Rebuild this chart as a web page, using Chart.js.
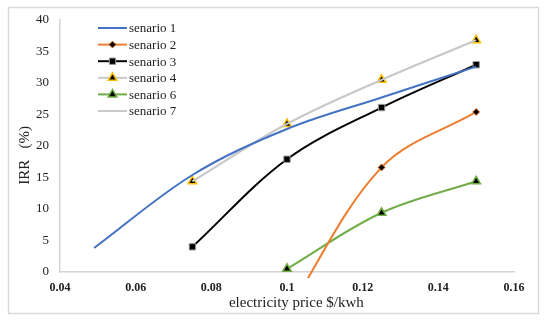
<!DOCTYPE html>
<html>
<head>
<meta charset="utf-8">
<script src="https://cdn.jsdelivr.net/npm/chart.js@4/dist/chart.umd.min.js"></script>
<style>
  html, body { margin: 0; padding: 0; background: #fff; }
  #wrap { width: 550px; height: 322px; }
</style>
</head>
<body>
<div id="wrap"><canvas id="c" width="550" height="322"></canvas></div>
<script>
// ---------- Dati ----------
const xTicks = [0.04, 0.06, 0.08, 0.1, 0.12, 0.14, 0.16];
const yTicks = [0, 5, 10, 15, 20, 25, 30, 35, 40];

const s1x = [0.049, 0.075, 0.1, 0.125, 0.15];
const s1y = [3.8, 15.4, 22.7, 27.7, 32.6];

const s2x = [0.1, 0.125, 0.15];
const s2y = [-6.5, 16.6, 25.4];

const s3x = [0.075, 0.1, 0.125, 0.15];
const s3y = [4.0, 17.9, 26.1, 32.9];

const s4x = [0.075, 0.1, 0.125, 0.15];
const s4y = [14.4, 23.5, 30.5, 36.8];

const s6x = [0.1, 0.125, 0.15];
const s6y = [0.5, 9.4, 14.4];

const s7x = [0.075, 0.1, 0.125, 0.15];
const s7y = [14.4, 23.5, 30.5, 36.8];

const labels = ["senario 1", "senario 2", "senario 3", "senario 4", "senario 6", "senario 7"];

const pts = (xs, ys) => xs.map((x, i) => ({ x, y: ys[i] }));

const SERIF = "'Liberation Serif', 'Times New Roman', serif";

// ---------- Dataset ----------
const datasets = [
  { label: labels[0], data: pts(s1x, s1y), borderColor: "#4472C4", pointRadius: 0 },
  { label: labels[1], data: pts(s2x, s2y), borderColor: "#ED7D31",
    pointStyle: "rectRot", pointRadius: 3.5, pointBackgroundColor: "#000", pointBorderColor: "#ED7D31", pointBorderWidth: 1 },
  { label: labels[2], data: pts(s3x, s3y), borderColor: "#000",
    pointStyle: "rect", pointRadius: 4.5, pointBackgroundColor: "#000", pointBorderColor: "#9a9a9a", pointBorderWidth: 1 },
  { label: labels[4], data: pts(s6x, s6y), borderColor: "#70AD47",
    pointStyle: "triangle", pointRadius: 5, pointBackgroundColor: "#000", pointBorderColor: "#70AD47", pointBorderWidth: 1.5 },
  { label: labels[5], data: pts(s7x, s7y), borderColor: "#C9C9C9", pointRadius: 0 },
  { label: labels[3], data: pts(s4x, s4y), borderColor: "#C9C9C9",
    pointStyle: "triangle", pointRadius: 5, pointBackgroundColor: "#000", pointBorderColor: "#FFC000", pointBorderWidth: 1.5 },
].map((d) => ({ borderWidth: 2, tension: 0.35, showLine: true, fill: false, clip: 6, ...d }));

// legenda disegnata dentro il grafico (come in Excel)
const legendRows = labels.map((lab) => datasets.find((d) => d.label === lab));

const insideLegend = {
  id: "insideLegend",
  afterDraw(chart) {
    const ctx = chart.ctx;
    ctx.save();
    ctx.font = "13px " + SERIF;
    ctx.textBaseline = "middle";
    legendRows.forEach((d, i) => {
      const y = 28 + i * 16.6;
      ctx.strokeStyle = d.borderColor;
      ctx.lineWidth = 2;
      ctx.beginPath();
      ctx.moveTo(98, y);
      ctx.lineTo(127, y);
      ctx.stroke();
      if (d.pointRadius > 0) {
        ctx.fillStyle = d.pointBackgroundColor;
        ctx.strokeStyle = d.pointBorderColor;
        ctx.lineWidth = d.pointBorderWidth;
        Chart.helpers.drawPoint(ctx, { pointStyle: d.pointStyle, radius: d.pointRadius, borderWidth: d.pointBorderWidth, rotation: 0 }, 112.5, y);
      }
      ctx.fillStyle = "#222";
      ctx.fillText(d.label, 129, y + 1);
    });
    ctx.restore();
  },
};

// sfondo bianco e cornice grigia
const frame = {
  id: "frame",
  beforeDraw(chart) {
    const ctx = chart.ctx;
    ctx.save();
    ctx.fillStyle = "#fff";
    ctx.fillRect(0, 0, chart.width, chart.height);
    ctx.strokeStyle = "#d9d9d9";
    ctx.lineWidth = 1.5;
    ctx.strokeRect(8.5, 7.5, 530, 306);
    ctx.restore();
  },
};

new Chart(document.getElementById("c"), {
  type: "scatter",
  data: { datasets },
  options: {
    responsive: false,
    animation: false,
    layout: { padding: { top: 20, right: 36, left: 0, bottom: 0 } },
    plugins: { legend: { display: false }, tooltip: { enabled: false } },
    scales: {
      x: {
        type: "linear",
        min: 0.04,
        max: 0.16,
        afterFit: (s) => { s.height = 50; },
        afterBuildTicks: (s) => { s.ticks = xTicks.map((v) => ({ value: v })); },
        grid: { display: false, drawTicks: false },
        border: { display: true, color: "#d4d4d4", width: 1.5 },
        ticks: {
          padding: 9,
          color: "#222",
          font: { family: SERIF, size: 12, weight: "bold" },
          callback: (v) => String(v),
        },
        title: {
          display: true,
          text: "     electricity price $/kwh",
          color: "#222",
          font: { family: SERIF, size: 15 },
          padding: { top: 0, bottom: 10 },
        },
      },
      y: {
        type: "linear",
        min: 0,
        max: 40,
        afterFit: (s) => { s.width = 60; },
        afterBuildTicks: (s) => { s.ticks = yTicks.map((v) => ({ value: v })); },
        grid: { display: false, drawTicks: false },
        border: { display: true, color: "#d4d4d4", width: 1.5 },
        ticks: {
          padding: 11,
          color: "#222",
          font: { family: SERIF, size: 13 },
        },
        title: {
          display: true,
          text: "IRR   (%)     ",
          color: "#222",
          font: { family: SERIF, size: 15 },
          padding: { top: 16, bottom: 0 },
        },
      },
    },
  },
  plugins: [frame, insideLegend],
});
</script>
</body>
</html>
